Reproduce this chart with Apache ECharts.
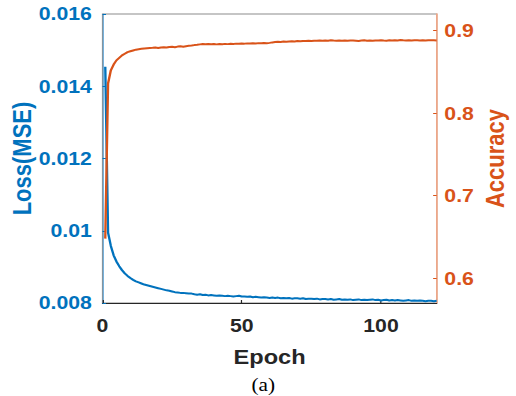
<!DOCTYPE html>
<html>
<head>
<meta charset="utf-8">
<script src="https://cdn.jsdelivr.net/npm/echarts@6/dist/echarts.min.js"></script>
<style>
  html, body { margin: 0; padding: 0; background: #fff; overflow: hidden; }
  /* the figure was exported wider than tall, so the drawing is stretched horizontally */
  #chart { width: 437px; height: 396px; transform: scaleX(1.1808); transform-origin: 0 0; }
</style>
</head>
<body>
<div id="chart"></div>
<script>
// Training loss (MSE) per epoch
const lossMSE = [
  0.01454, 0.00995, 0.00958, 0.00932, 0.00915, 0.00902, 0.00891, 0.00882, 0.00875, 0.00869,
  0.00864, 0.00860, 0.00857, 0.00854, 0.00851, 0.00849, 0.00847, 0.00845, 0.00843, 0.00841,
  0.00839, 0.00837, 0.00835, 0.00834, 0.00832, 0.00830, 0.00829, 0.00828, 0.00828, 0.00827,
  0.00826, 0.00826, 0.00824, 0.00823, 0.00824, 0.00822, 0.00823, 0.00821, 0.00822, 0.00821,
  0.00820, 0.00821, 0.00820, 0.00819, 0.00820, 0.00819, 0.00818, 0.00819, 0.00820, 0.00818,
  0.00818, 0.00817, 0.00818, 0.00816, 0.00817, 0.00816, 0.00815, 0.00816, 0.00815, 0.00814,
  0.00815, 0.00814, 0.00815, 0.00813, 0.00814, 0.00813, 0.00814, 0.00812, 0.00813, 0.00813,
  0.00812, 0.00813, 0.00811, 0.00812, 0.00812, 0.00811, 0.00812, 0.00810, 0.00811, 0.00811,
  0.00810, 0.00811, 0.00809, 0.00810, 0.00811, 0.00809, 0.00810, 0.00809, 0.00810, 0.00808,
  0.00809, 0.00810, 0.00808, 0.00809, 0.00808, 0.00809, 0.00810, 0.00808, 0.00809, 0.00807,
  0.00808, 0.00809, 0.00807, 0.00808, 0.00807, 0.00808, 0.00807, 0.00806, 0.00807, 0.00808,
  0.00806, 0.00807, 0.00806, 0.00807, 0.00806, 0.00805, 0.00806, 0.00806, 0.00805, 0.00806
];

// Accuracy per epoch
const accuracy = [
  0.648, 0.836, 0.852, 0.859, 0.864, 0.867, 0.870, 0.872, 0.874, 0.875,
  0.876, 0.877, 0.8775, 0.878, 0.8785, 0.8788, 0.8790, 0.8792, 0.8795, 0.8790,
  0.8797, 0.8800, 0.8796, 0.8802, 0.8805, 0.8800, 0.8807, 0.8810, 0.8806, 0.8812,
  0.8816, 0.8820, 0.8825, 0.8829, 0.8834, 0.8838, 0.8836, 0.8839, 0.8836, 0.8838,
  0.8834, 0.8838, 0.8836, 0.8840, 0.8837, 0.8841, 0.8839, 0.8843, 0.8841, 0.8844,
  0.8843, 0.8846, 0.8844, 0.8848, 0.8845, 0.8849, 0.8847, 0.8850, 0.8848, 0.8852,
  0.8858, 0.8862, 0.8866, 0.8864, 0.8868, 0.8866, 0.8870, 0.8872, 0.8869, 0.8874,
  0.8872, 0.8876, 0.8874, 0.8878, 0.8875, 0.8879, 0.8877, 0.8881, 0.8878, 0.8882,
  0.8879, 0.8883, 0.8880, 0.8878, 0.8882, 0.8879, 0.8881, 0.8877, 0.8880, 0.8882,
  0.8879, 0.8876, 0.8880, 0.8883, 0.8879, 0.8881, 0.8878, 0.8882, 0.8880, 0.8884,
  0.8881, 0.8879, 0.8883, 0.8880, 0.8885, 0.8882, 0.8886, 0.8883, 0.8881, 0.8884,
  0.8882, 0.8885, 0.8883, 0.8881, 0.8884, 0.8882, 0.8885, 0.8883, 0.8884, 0.8882
];

const epochTicks = [0, 50, 100];
const lossTicks = [0.008, 0.01, 0.012, 0.014, 0.016];
const accTicks = [0.6, 0.7, 0.8, 0.9];

const BLUE = '#0072BD';
const ORANGE = '#D95319';
const DARK = '#262626';
const FONT = '"Liberation Sans", Arial, sans-serif';

const epochs = lossMSE.map((_, i) => i + 1);
const lossData = epochs.map((e, i) => [e, lossMSE[i]]);
const accData = epochs.map((e, i) => [e, accuracy[i]]);

const chart = echarts.init(document.getElementById('chart'), null, { renderer: 'svg' });

chart.setOption({
  animation: false,
  backgroundColor: '#fff',
  grid: {
    left: 86.8, right: 67.2, top: 14, bottom: 93,
    outerBoundsMode: 'none', containLabel: false,
    show: true, borderColor: '#8c8c8c', borderWidth: 1, backgroundColor: 'transparent'
  },
  xAxis: {
    type: 'value', min: 0, max: 120,
    name: 'Epoch', nameLocation: 'middle', nameGap: 44, nameMoveOverlap: false,
    nameTextStyle: { fontFamily: FONT, fontWeight: 'bold', fontSize: 20, color: DARK },
    axisLine: { lineStyle: { color: DARK, width: 1 } },
    axisTick: { inside: true, length: 3, customValues: epochTicks, lineStyle: { color: DARK } },
    axisLabel: {
      customValues: epochTicks, margin: 14,
      fontFamily: FONT, fontWeight: 'bold', fontSize: 18, color: DARK
    },
    splitLine: { show: false }
  },
  yAxis: [
    {
      type: 'value', min: 0.008, max: 0.016, position: 'left',
      name: 'Loss(MSE)', nameLocation: 'middle', nameGap: 57, nameRotate: 90, nameMoveOverlap: false,
      nameTextStyle: { fontFamily: FONT, fontWeight: 'bold', fontSize: 22, color: BLUE },
      axisLine: { show: true, lineStyle: { color: '#6aaad8', width: 1 } },
      axisTick: { show: true, inside: true, length: 3, customValues: lossTicks, lineStyle: { color: BLUE } },
      axisLabel: {
        customValues: lossTicks, margin: 9,
        formatter: v => String(parseFloat(v.toFixed(3))),
        fontFamily: FONT, fontWeight: 'bold', fontSize: 18, color: BLUE
      },
      splitLine: { show: false }
    },
    {
      type: 'value', min: 0.57, max: 0.9202, position: 'right',
      name: 'Accuracy', nameLocation: 'middle', nameGap: 38, nameRotate: 90, nameMoveOverlap: false,
      nameTextStyle: { fontFamily: FONT, fontWeight: 'bold', fontSize: 22, color: ORANGE },
      axisLine: { show: true, lineStyle: { color: '#eea88a', width: 1.5 } },
      axisTick: { show: true, inside: true, length: 3, customValues: accTicks, lineStyle: { color: ORANGE } },
      axisLabel: {
        customValues: accTicks, margin: 6.5,
        formatter: v => String(parseFloat(v.toFixed(1))),
        fontFamily: FONT, fontWeight: 'bold', fontSize: 18, color: ORANGE
      },
      splitLine: { show: false }
    }
  ],
  series: [
    {
      name: 'Loss', type: 'line', yAxisIndex: 0, data: lossData,
      showSymbol: false, lineStyle: { color: BLUE, width: 2 }, itemStyle: { color: BLUE }
    },
    {
      name: 'Accuracy', type: 'line', yAxisIndex: 1, data: accData,
      showSymbol: false, lineStyle: { color: ORANGE, width: 2 }, itemStyle: { color: ORANGE }
    }
  ],
  graphic: [
    {
      type: 'text', x: 223, y: 385, style: {
        text: '(a)', textAlign: 'center', textVerticalAlign: 'middle',
        font: '18px "Liberation Serif", "Times New Roman", serif', fill: '#000'
      }
    }
  ]
});
</script>
</body>
</html>
